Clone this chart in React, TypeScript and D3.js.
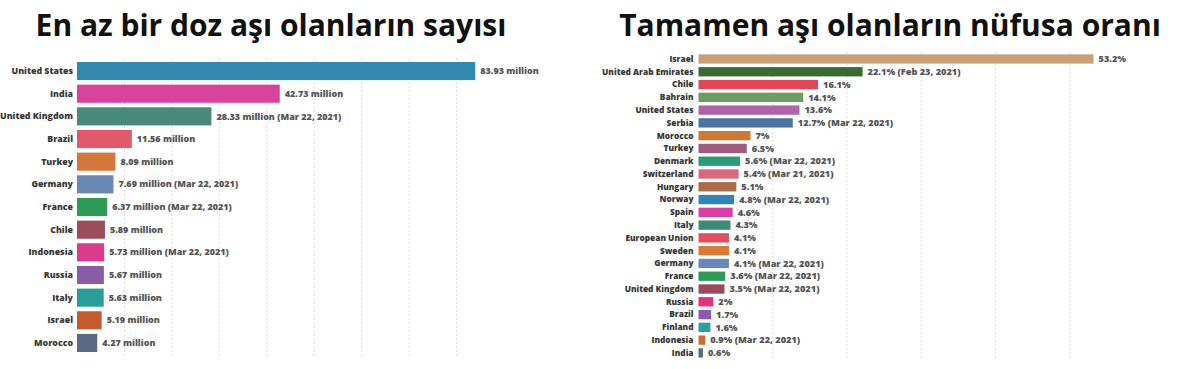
import { useEffect, useRef } from 'react'
import * as d3 from 'd3'

// left chart: at least one dose (millions)
const doseCountries = ['United States', 'India', 'United Kingdom', 'Brazil', 'Turkey', 'Germany', 'France', 'Chile', 'Indonesia', 'Russia', 'Italy', 'Israel', 'Morocco']
const doseValues = [83.93, 42.73, 28.33, 11.56, 8.09, 7.69, 6.37, 5.89, 5.73, 5.67, 5.63, 5.19, 4.27]
const doseNotes = ['', '', 'Mar 22, 2021', '', '', 'Mar 22, 2021', 'Mar 22, 2021', '', 'Mar 22, 2021', '', '', '', '']
const doseColors = ['#3288ad', '#d8449b', '#478a7c', '#e05a6c', '#d4773a', '#6a87b4', '#2f9a58', '#9b4d5b', '#dc3a8c', '#8a5ca8', '#2b9d98', '#c65a2f', '#5a6a82']

// right chart: fully vaccinated share of population (%)
const fullCountries = ['Israel', 'United Arab Emirates', 'Chile', 'Bahrain', 'United States', 'Serbia', 'Morocco', 'Turkey', 'Denmark', 'Switzerland', 'Hungary', 'Norway', 'Spain', 'Italy', 'European Union', 'Sweden', 'Germany', 'France', 'United Kingdom', 'Russia', 'Brazil', 'Finland', 'Indonesia', 'India']
const fullValues = [53.2, 22.1, 16.1, 14.1, 13.6, 12.7, 7, 6.5, 5.6, 5.4, 5.1, 4.8, 4.6, 4.3, 4.1, 4.1, 4.1, 3.6, 3.5, 2, 1.7, 1.6, 0.9, 0.6]
const fullNotes = ['', 'Feb 23, 2021', '', '', '', 'Mar 22, 2021', '', '', 'Mar 22, 2021', 'Mar 21, 2021', '', 'Mar 22, 2021', '', '', '', '', 'Mar 22, 2021', 'Mar 22, 2021', 'Mar 22, 2021', '', '', '', 'Mar 22, 2021', '']
const fullColors = ['#c8a078', '#3d6a34', '#e0485a', '#6c9c5e', '#b064a8', '#4b74a0', '#cb7a36', '#a05a7e', '#2a9a78', '#d4697f', '#a86a48', '#3384b4', '#d840a6', '#3c8a78', '#dc5062', '#d87a36', '#6a88b8', '#2e9a58', '#9a4a5a', '#e0357e', '#8c5ab0', '#2ca0a0', '#d2692f', '#5a6a82']

const titleLeft = 'En az bir doz aşı olanların sayısı'
const titleRight = 'Tamamen aşı olanların nüfusa oranı'

const W = 1200
const H = 369
const FONT = '"Open Sans", Lato, sans-serif'

const App = () => {
	const svgRef = useRef(null)

	useEffect(() => {
		const svg = d3.select(svgRef.current)
		svg.selectAll('*').remove()

		const drawPanel = (opts) => {
			const { names, values, notes, colors, x0, x1, domainMax, y0, y1, padIn, labelSize, labelGap, valueSize, gridTop, gridBottom, fmt } = opts
			const x = d3.scaleLinear().domain([0, domainMax]).range([x0, x1])
			const y = d3.scaleBand().domain(names).range([y0, y1]).paddingInner(padIn).paddingOuter(padIn / 2)
			const g = svg.append('g')

			// grid
			g.append('g')
				.selectAll('line')
				.data(x.ticks(Math.round(domainMax / 10)).filter((t) => t > 0))
				.join('line')
				.attr('x1', (d) => x(d))
				.attr('x2', (d) => x(d))
				.attr('y1', gridTop)
				.attr('y2', gridBottom)
				.attr('stroke', '#dcdcdc')
				.attr('stroke-width', 1)
				.attr('stroke-dasharray', '2,2')

			// bars
			g.append('g')
				.selectAll('rect')
				.data(names)
				.join('rect')
				.attr('x', x(0))
				.attr('y', (d) => y(d))
				.attr('width', (d, i) => x(values[i]) - x(0))
				.attr('height', y.bandwidth())
				.attr('fill', (d, i) => colors[i])

			// category labels
			g.append('g')
				.selectAll('text')
				.data(names)
				.join('text')
				.attr('x', x(0) - labelGap)
				.attr('y', (d) => y(d) + y.bandwidth() / 2)
				.attr('dy', '0.35em')
				.attr('text-anchor', 'end')
				.attr('font-family', FONT)
				.attr('font-weight', 800)
				.attr('font-size', labelSize)
				.attr('fill', '#383838')
				.text((d) => d)

			// value labels
			g.append('g')
				.selectAll('text')
				.data(names)
				.join('text')
				.attr('x', (d, i) => x(values[i]) + 5)
				.attr('y', (d) => y(d) + y.bandwidth() / 2)
				.attr('dy', '0.35em')
				.attr('font-family', FONT)
				.attr('font-weight', 800)
				.attr('font-size', valueSize)
				.attr('fill', '#555')
				.text((d, i) => fmt(values[i]) + (notes[i] ? ` (${notes[i]})` : ''))
		}

		drawPanel({
			names: doseCountries,
			values: doseValues,
			notes: doseNotes,
			colors: doseColors,
			x0: 77,
			x1: 77 + 85 * 4.745,
			domainMax: 85,
			y0: 59.7,
			y1: 354.3,
			padIn: 0.2,
			labelSize: 8.8,
			labelGap: 4,
			valueSize: 9,
			gridTop: 58,
			gridBottom: 357,
			fmt: (v) => `${v.toFixed(2)} million`,
		})

		drawPanel({
			names: fullCountries,
			values: fullValues,
			notes: fullNotes,
			colors: fullColors,
			x0: 698.5,
			x1: 698.5 + 55 * 7.425,
			domainMax: 55,
			y0: 52.6,
			y1: 359.3,
			padIn: 0.27,
			labelSize: 8.3,
			labelGap: 5,
			valueSize: 9.2,
			gridTop: 52,
			gridBottom: 360,
			fmt: (v) => `${v}%`,
		})

		// titles
		svg.append('text')
			.attr('x', 271)
			.attr('y', 36)
			.attr('text-anchor', 'middle')
			.attr('font-family', FONT)
			.attr('font-weight', 700)
			.attr('font-size', 30)
			.attr('fill', '#111')
			.text(titleLeft)

		svg.append('text')
			.attr('x', 890)
			.attr('y', 36)
			.attr('text-anchor', 'middle')
			.attr('font-family', FONT)
			.attr('font-weight', 700)
			.attr('font-size', 30)
			.attr('fill', '#111')
			.text(titleRight)
	}, [])

	return (
		<svg
			ref={svgRef}
			width={W}
			height={H}
			viewBox={`0 0 ${W} ${H}`}
			style={{ position: 'absolute', left: 0, top: 0, background: '#fff', display: 'block' }}
		></svg>
	)
}

export default App
